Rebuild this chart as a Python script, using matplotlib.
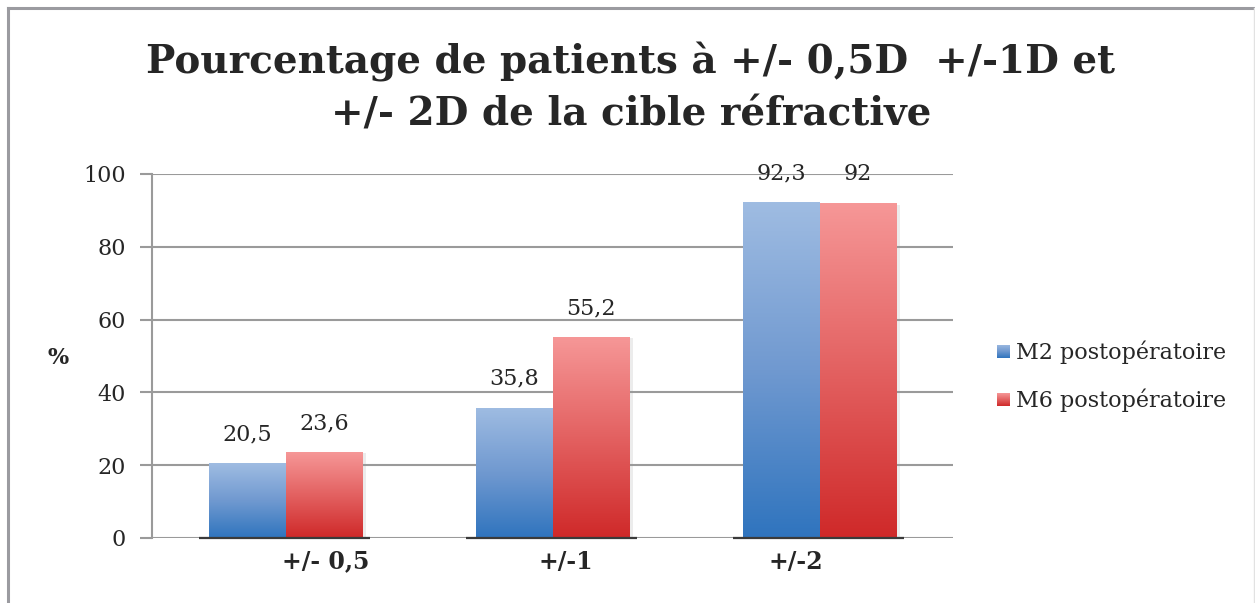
import numpy as np
import matplotlib
matplotlib.use("Agg")
import matplotlib.pyplot as plt
import matplotlib.patheffects as pe
from matplotlib.colors import LinearSegmentedColormap
from matplotlib.lines import Line2D

# --- data ---------------------------------------------------------------
categories = ["+/- 0,5", "+/-1", "+/-2"]
series_names = ["M2 postopératoire", "M6 postopératoire"]
m2_values = [20.5, 35.8, 92.3]
m6_values = [23.6, 55.2, 92.0]
y_ticks = [0, 20, 40, 60, 80, 100]
title = "Pourcentage de patients à +/- 0,5D  +/-1D et\n+/- 2D de la cible réfractive"
y_label = "%"

# --- style --------------------------------------------------------------
serif = ["DejaVu Serif"]
text_color = "#262626"
grid_color = "#9a9a9a"
blue_cmap = LinearSegmentedColormap.from_list("blue_grad", ["#9fbce2", "#7099d0", "#2f74be"])
red_cmap = LinearSegmentedColormap.from_list("red_grad", ["#f69797", "#e36161", "#cf2929"])
cmaps = [blue_cmap, red_cmap]

W, H = 1255, 603
fig = plt.figure(figsize=(W / 100, H / 100), dpi=100)
fig.patch.set_facecolor("white")

# outer frame of the chart area
fig.add_artist(Line2D([8 / W, 8 / W], [0, 1 - 8 / H], transform=fig.transFigure,
                      color="#9b9ba0", lw=2.2))
fig.add_artist(Line2D([8 / W, 1], [1 - 8 / H, 1 - 8 / H], transform=fig.transFigure,
                      color="#9b9ba0", lw=2.2))
fig.add_artist(Line2D([1253.5 / W, 1253.5 / W], [0, 1 - 8 / H], transform=fig.transFigure,
                      color="#e2e2e2", lw=1.0))

ax = fig.add_axes([152 / W, 1 - 538 / H, (953 - 152) / W, (538 - 174) / H])
ax.set_xlim(-0.5, len(categories) - 0.5)
ax.set_ylim(0, 100)

for s in ["top", "right", "bottom"]:
    ax.spines[s].set_visible(False)
ax.spines["left"].set_color(grid_color)
ax.spines["left"].set_linewidth(1.5)

ax.set_yticks(y_ticks)
ax.set_yticklabels([str(t) for t in y_ticks], family=serif, fontsize=16, color=text_color)
ax.tick_params(axis="y", length=9, width=1.5, color=grid_color, pad=10)
ax.set_xticks([])
ax.yaxis.grid(True, color=grid_color, lw=1.5)
ax.set_axisbelow(True)

bar_w = 0.288
x = np.arange(len(categories))
grad = np.linspace(0, 1, 256).reshape(-1, 1)

for j, (vals, cmap) in enumerate(zip([m2_values, m6_values], cmaps)):
    offs = (j - 0.5) * bar_w
    bars = ax.bar(x + offs, vals, width=bar_w, color="white", zorder=2,
                  path_effects=[pe.SimplePatchShadow(offset=(2.5, -1), shadow_rgbFace="#999999", alpha=0.18),
                                pe.Normal()])
    for b, v in zip(bars, vals):
        x0 = b.get_x()
        im = ax.imshow(grad, cmap=cmap, aspect="auto", origin="upper",
                       extent=[x0, x0 + bar_w, 0, v], zorder=3, interpolation="bilinear")
        im.set_clip_path(b)
        label = f"{v:g}".replace(".", ",")
        ax.annotate(label, (x0 + bar_w / 2, v), xytext=(0, 13), textcoords="offset points",
                    ha="center", va="bottom", family=serif, fontsize=16, color=text_color,
                    zorder=5)

# dark floor line under each group of bars
for xi in x:
    ax.plot([xi - bar_w - 0.035, xi + bar_w + 0.03], [0, 0], color="#3a3a3a", lw=1.6,
            zorder=4, solid_capstyle="butt", clip_on=False)

# category labels, bold, below the axis
label_shift = [0.15, 0.05, -0.09]
for xi, cat, sh in zip(x, categories, label_shift):
    ax.text(xi + sh, -6.5, cat, ha="center", va="center", family=serif, fontsize=17,
            fontweight="bold", color=text_color, transform=ax.transData)

# y-axis label
fig.text(58 / W, 1 - 358 / H, y_label, ha="center", va="center", family=serif,
         fontsize=16, fontweight="bold", color=text_color)

# title
fig.text(631 / W, 1 - 88 / H, title, ha="center", va="center", family=serif,
         fontsize=28, fontweight="bold", color=text_color, linespacing=1.45)

# legend with gradient swatches
for k, (name, cmap) in enumerate(zip(series_names, cmaps)):
    yc = 352 + k * 48
    sw = fig.add_axes([997 / W, 1 - (yc + 6) / H, 13 / W, 13 / H])
    sw.imshow(grad, cmap=cmap, aspect="auto", interpolation="bilinear")
    sw.set_axis_off()
    fig.text(1016 / W, 1 - yc / H, name, ha="left", va="center", family=serif,
             fontsize=16, color=text_color)

fig.savefig("out.png", dpi=100, facecolor="white")
